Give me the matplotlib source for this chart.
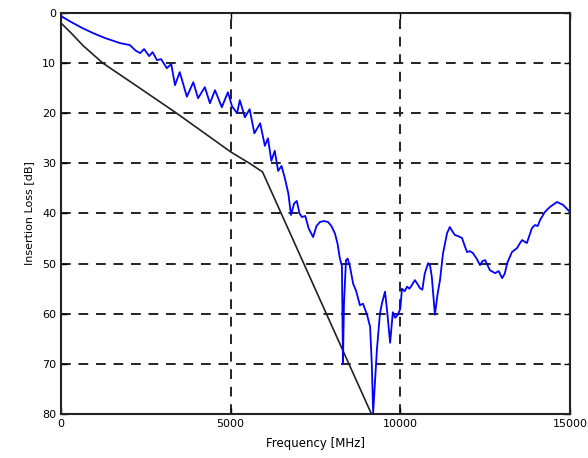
import matplotlib.pyplot as plt
import numpy as np

# measured insertion loss (blue)
freq_meas = [0, 300, 600, 943, 1300, 1740, 2030, 2200, 2330, 2450, 2600, 2700, 2830, 2950,
             3120, 3250, 3360, 3500, 3710, 3900, 4040, 4240, 4390, 4540, 4740, 4920, 5040,
             5190, 5270, 5420, 5560, 5700, 5870, 6010, 6100, 6200, 6300, 6400, 6500, 6600,
             6700, 6780, 6870, 6950, 7030, 7100, 7200, 7300, 7430, 7530, 7630, 7750, 7870,
             7970, 8075, 8150, 8220, 8280, 8310, 8340, 8400, 8450, 8520, 8610, 8700, 8810,
             8900, 9020, 9110, 9160, 9200, 9250, 9310, 9400, 9460, 9550, 9620, 9700, 9780,
             9850, 9930, 10000, 10050, 10130, 10200, 10270, 10340, 10430, 10500, 10580,
             10650, 10720, 10820, 10880, 10930, 11020, 11100, 11170, 11260, 11380, 11460,
             11530, 11610, 11700, 11820, 11900, 11970, 12050, 12140, 12250, 12350, 12420,
             12500, 12640, 12790, 12900, 13000, 13080, 13150, 13290, 13440, 13520, 13590,
             13730, 13880, 13970, 14050, 14120, 14260, 14410, 14620, 14800, 15000]
loss_meas = [0.6, 1.8, 2.9, 4.0, 5.0, 6.0, 6.4, 7.5, 8.0, 7.2, 8.6, 7.8, 9.4, 9.2,
             11.0, 10.2, 14.4, 11.8, 16.7, 13.8, 17.0, 14.8, 18.0, 15.4, 18.8, 15.8, 18.6,
             20.0, 17.4, 20.8, 19.2, 24.0, 22.0, 26.5, 25.0, 29.5, 27.5, 31.5, 30.5, 33.0,
             36.0, 40.3, 38.0, 37.5, 40.0, 40.7, 40.5, 43.0, 44.7, 42.5, 41.7, 41.5, 41.7,
             42.5, 44.0, 46.0, 49.0, 50.5, 70.0, 58.0, 49.3, 49.0, 50.7, 54.0, 55.5, 58.3,
             58.0, 60.2, 62.6, 70.0, 79.8, 74.0, 67.2, 60.0, 57.9, 55.6, 60.0, 65.8, 59.7,
             60.8, 60.2, 59.0, 55.0, 55.5, 54.6, 55.0, 54.3, 53.3, 54.0, 54.9,
             55.2, 52.0, 49.9, 50.5, 52.7, 60.2, 56.0, 53.3, 47.9, 43.9, 42.7,
             43.5, 44.3, 44.5, 44.9, 46.5, 47.7, 47.5, 47.9, 49.0, 50.3, 49.5,
             49.3, 51.3, 51.9, 51.5, 52.9, 52.0, 49.9, 47.7, 46.9, 46.0, 45.3,
             45.9, 42.9, 42.3, 42.5, 41.3, 39.7, 38.7, 37.7, 38.3, 39.7]

# model curve (black)
freq_model = [0, 300, 650, 1235, 2000, 3410, 5000, 5560, 5940, 9150]
loss_model = [2.0, 4.0, 6.5, 10.0, 13.5, 20.0, 27.7, 30.0, 31.7, 80.0]

xticks = [0, 5000, 10000, 15000]
yticks = [0, 10, 20, 30, 40, 50, 60, 70, 80]

fig = plt.figure(figsize=(5.88, 4.58), dpi=100)
ax = fig.add_axes([0.1037, 0.0961, 0.8656, 0.8755])

ax.plot(freq_model, loss_model, color='#222222', linewidth=1.2, zorder=3)
ax.plot(freq_meas, loss_meas, color='#0000ff', linewidth=1.3, zorder=4)

ax.set_xlim(0, 15000)
ax.set_ylim(80, 0)
ax.set_xticks(xticks)
ax.set_yticks(yticks)
ax.tick_params(direction='in', length=4, width=1, labelsize=8, top=True, right=True)

ax.grid(True, color='#222222', linestyle=(0, (5, 4)), linewidth=1.4)
for s in ax.spines.values():
    s.set_linewidth(1.5)
    s.set_color('#222222')

ax.set_xlabel('Frequency [MHz]', fontsize=8.5, labelpad=6)
ax.set_ylabel('Insertion Loss [dB]', fontsize=8, labelpad=6)

plt.savefig('out.png', dpi=100)
